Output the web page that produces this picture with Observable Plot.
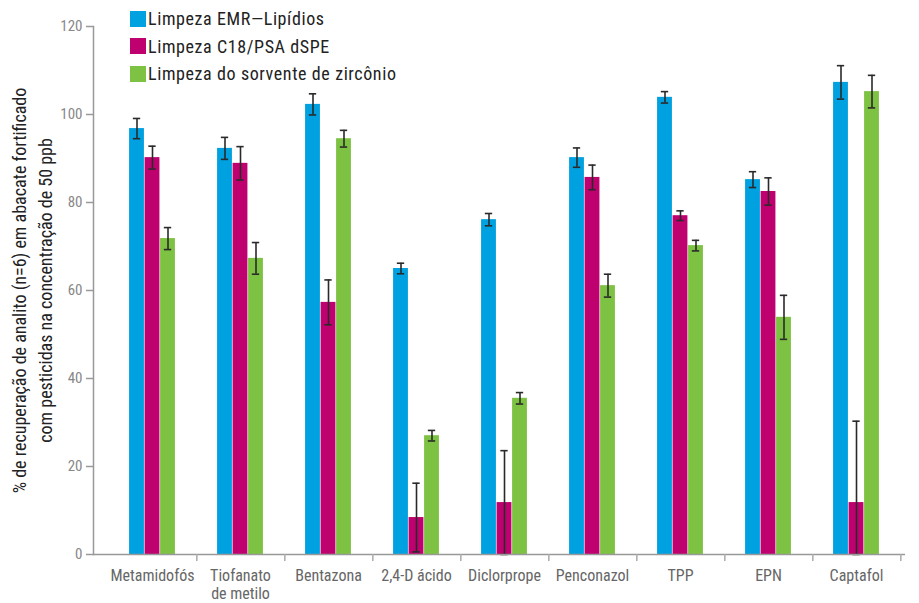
<!DOCTYPE html>
<html>
<head>
<meta charset="utf-8">
<script src="https://cdn.jsdelivr.net/npm/d3@7"></script>
<script src="https://cdn.jsdelivr.net/npm/@observablehq/plot@0.6"></script>
<style>
  html, body { margin: 0; padding: 0; background: #fff; }
  #wrap { position: relative; width: 919px; height: 603px; }
  #legend { position: absolute; left: 130px; top: 5px; font-family: "Roboto Condensed", "DejaVu Sans Condensed", sans-serif; font-size: 18px; letter-spacing: 0.6px; color: #222; }
  #legend .item { display: flex; align-items: center; height: 27.5px; }
  #legend .sw { width: 16px; height: 16px; margin-right: 2px; }
</style>
</head>
<body>
<div id="wrap"><div id="legend"></div></div>
<script>
const categories = ["Metamidofós", "Tiofanato de metilo", "Bentazona", "2,4-D ácido", "Diclorprope", "Penconazol", "TPP", "EPN", "Captafol"];
const categoryLabels = ["Metamidofós", "Tiofanato\nde metilo", "Bentazona", "2,4-D ácido", "Diclorprope", "Penconazol", "TPP", "EPN", "Captafol"];
const series = ["Limpeza EMR—Lipídios", "Limpeza C18/PSA dSPE", "Limpeza do sorvente de zircônio"];
const colors = ["#00a1e1", "#bf006f", "#7dc243"];
const emr    = [96.8, 92.3, 102.3, 65.0, 76.1, 90.2, 103.9, 85.2, 107.3];
const emrErr = [2.3, 2.5, 2.4, 1.2, 1.4, 2.2, 1.3, 1.8, 3.8];
const c18    = [90.2, 88.9, 57.3, 8.4, 11.8, 85.7, 77.0, 82.5, 11.8];
const c18Err = [2.6, 3.8, 5.1, 7.8, 11.8, 2.8, 1.1, 3.1, 18.5];
const zr     = [71.8, 67.3, 94.5, 27.0, 35.5, 61.1, 70.2, 53.9, 105.2];
const zrErr  = [2.5, 3.6, 1.9, 1.2, 1.3, 2.6, 1.2, 5.0, 3.7];
const yTicks = [0, 20, 40, 60, 80, 100, 120];
const yLabel = "% de recuperação de analito (n=6) em abacate fortificado\ncom pesticidas na concentração de 50 ppb";

const values = [emr, c18, zr];
const errors = [emrErr, c18Err, zrErr];

const FONT = '"Roboto Condensed", "DejaVu Sans Condensed", sans-serif';
const W = 919, H = 603;
const mL = 93, mR = 14, inL = 12, inR = 2;
const bw = (W - mL - mR - inL - inR) / categories.length;
const BAR = 15.5, CAP = 8;

const bars = [], errs = [];
series.forEach((s, i) => {
  const rows = categories.map((c, j) => ({
    cat: c, series: s, value: values[i][j],
    lo: Math.max(0, values[i][j] - errors[i][j]), hi: values[i][j] + errors[i][j]
  }));
  const dx = (i - 1) * BAR;
  bars.push(Plot.barY(rows, {x: "cat", y: "value", fill: "series",
    insetLeft: (bw - BAR) / 2, insetRight: (bw - BAR) / 2, dx}));
  errs.push({rows, dx});
});

const errStyle = {stroke: "#2a2a2a", strokeWidth: 1.6};
const plotMarks = [
  ...bars,
  ...errs.map(({rows, dx}) => Plot.ruleX(rows, {x: "cat", y1: "lo", y2: "hi", dx, ...errStyle})),
  ...errs.map(({rows, dx}) => Plot.tickY(rows, {x: "cat", y: "hi", dx, ...errStyle, insetLeft: (bw - CAP) / 2, insetRight: (bw - CAP) / 2})),
  ...errs.map(({rows, dx}) => Plot.tickY(rows, {x: "cat", y: "lo", dx, ...errStyle, insetLeft: (bw - CAP) / 2, insetRight: (bw - CAP) / 2})),
  Plot.ruleY([0], {stroke: "#999", strokeWidth: 1.5}),
  Plot.frame({anchor: "left", stroke: "#999", strokeWidth: 1.5}),
  Plot.ruleX(categories, {x: d => d, dx: bw / 2, y1: 0, y2: -1.6, stroke: "#aaa", strokeWidth: 1.5}),
  Plot.axisY({ticks: yTicks, tickSize: 7, tickPadding: 4, stroke: "#999", strokeWidth: 1.5, fill: "#888", fontSize: 15, label: null}),
  Plot.axisX({tickSize: 0, tickPadding: 14, fill: "#666", fontSize: 16, lineHeight: 1.1, label: null, ariaLabel: "xlabels",
    tickFormat: d => categoryLabels[categories.indexOf(d)]}),
  Plot.text([yLabel], {frameAnchor: "left", textAnchor: "middle", rotate: -90, dx: -62.5, fontSize: 18, fill: "#222", lineHeight: 1.4})
];

const plot = Plot.plot({
  width: W, height: H,
  marginLeft: mL, marginRight: mR, marginTop: 26, marginBottom: 49,
  style: {fontFamily: FONT, fontSize: "14px", background: "white", overflow: "visible"},
  x: {domain: categories, padding: 0, insetLeft: inL, insetRight: inR, axis: null},
  y: {domain: [0, 120], axis: null},
  color: {domain: series, range: colors},
  marks: plotMarks
});
// x labels use a narrower setting of the condensed face
d3.select(plot).selectAll('g[aria-label="xlabels"] text')
  .attr("transform", function() { return (this.getAttribute("transform") || "") + " scale(0.86,1)"; });
document.getElementById("wrap").prepend(plot);

const legend = d3.select("#legend");
series.forEach((s, i) => {
  const it = legend.append("div").attr("class", "item");
  it.append("div").attr("class", "sw").style("background", colors[i]);
  it.append("span").text(s);
});
</script>
</body>
</html>
